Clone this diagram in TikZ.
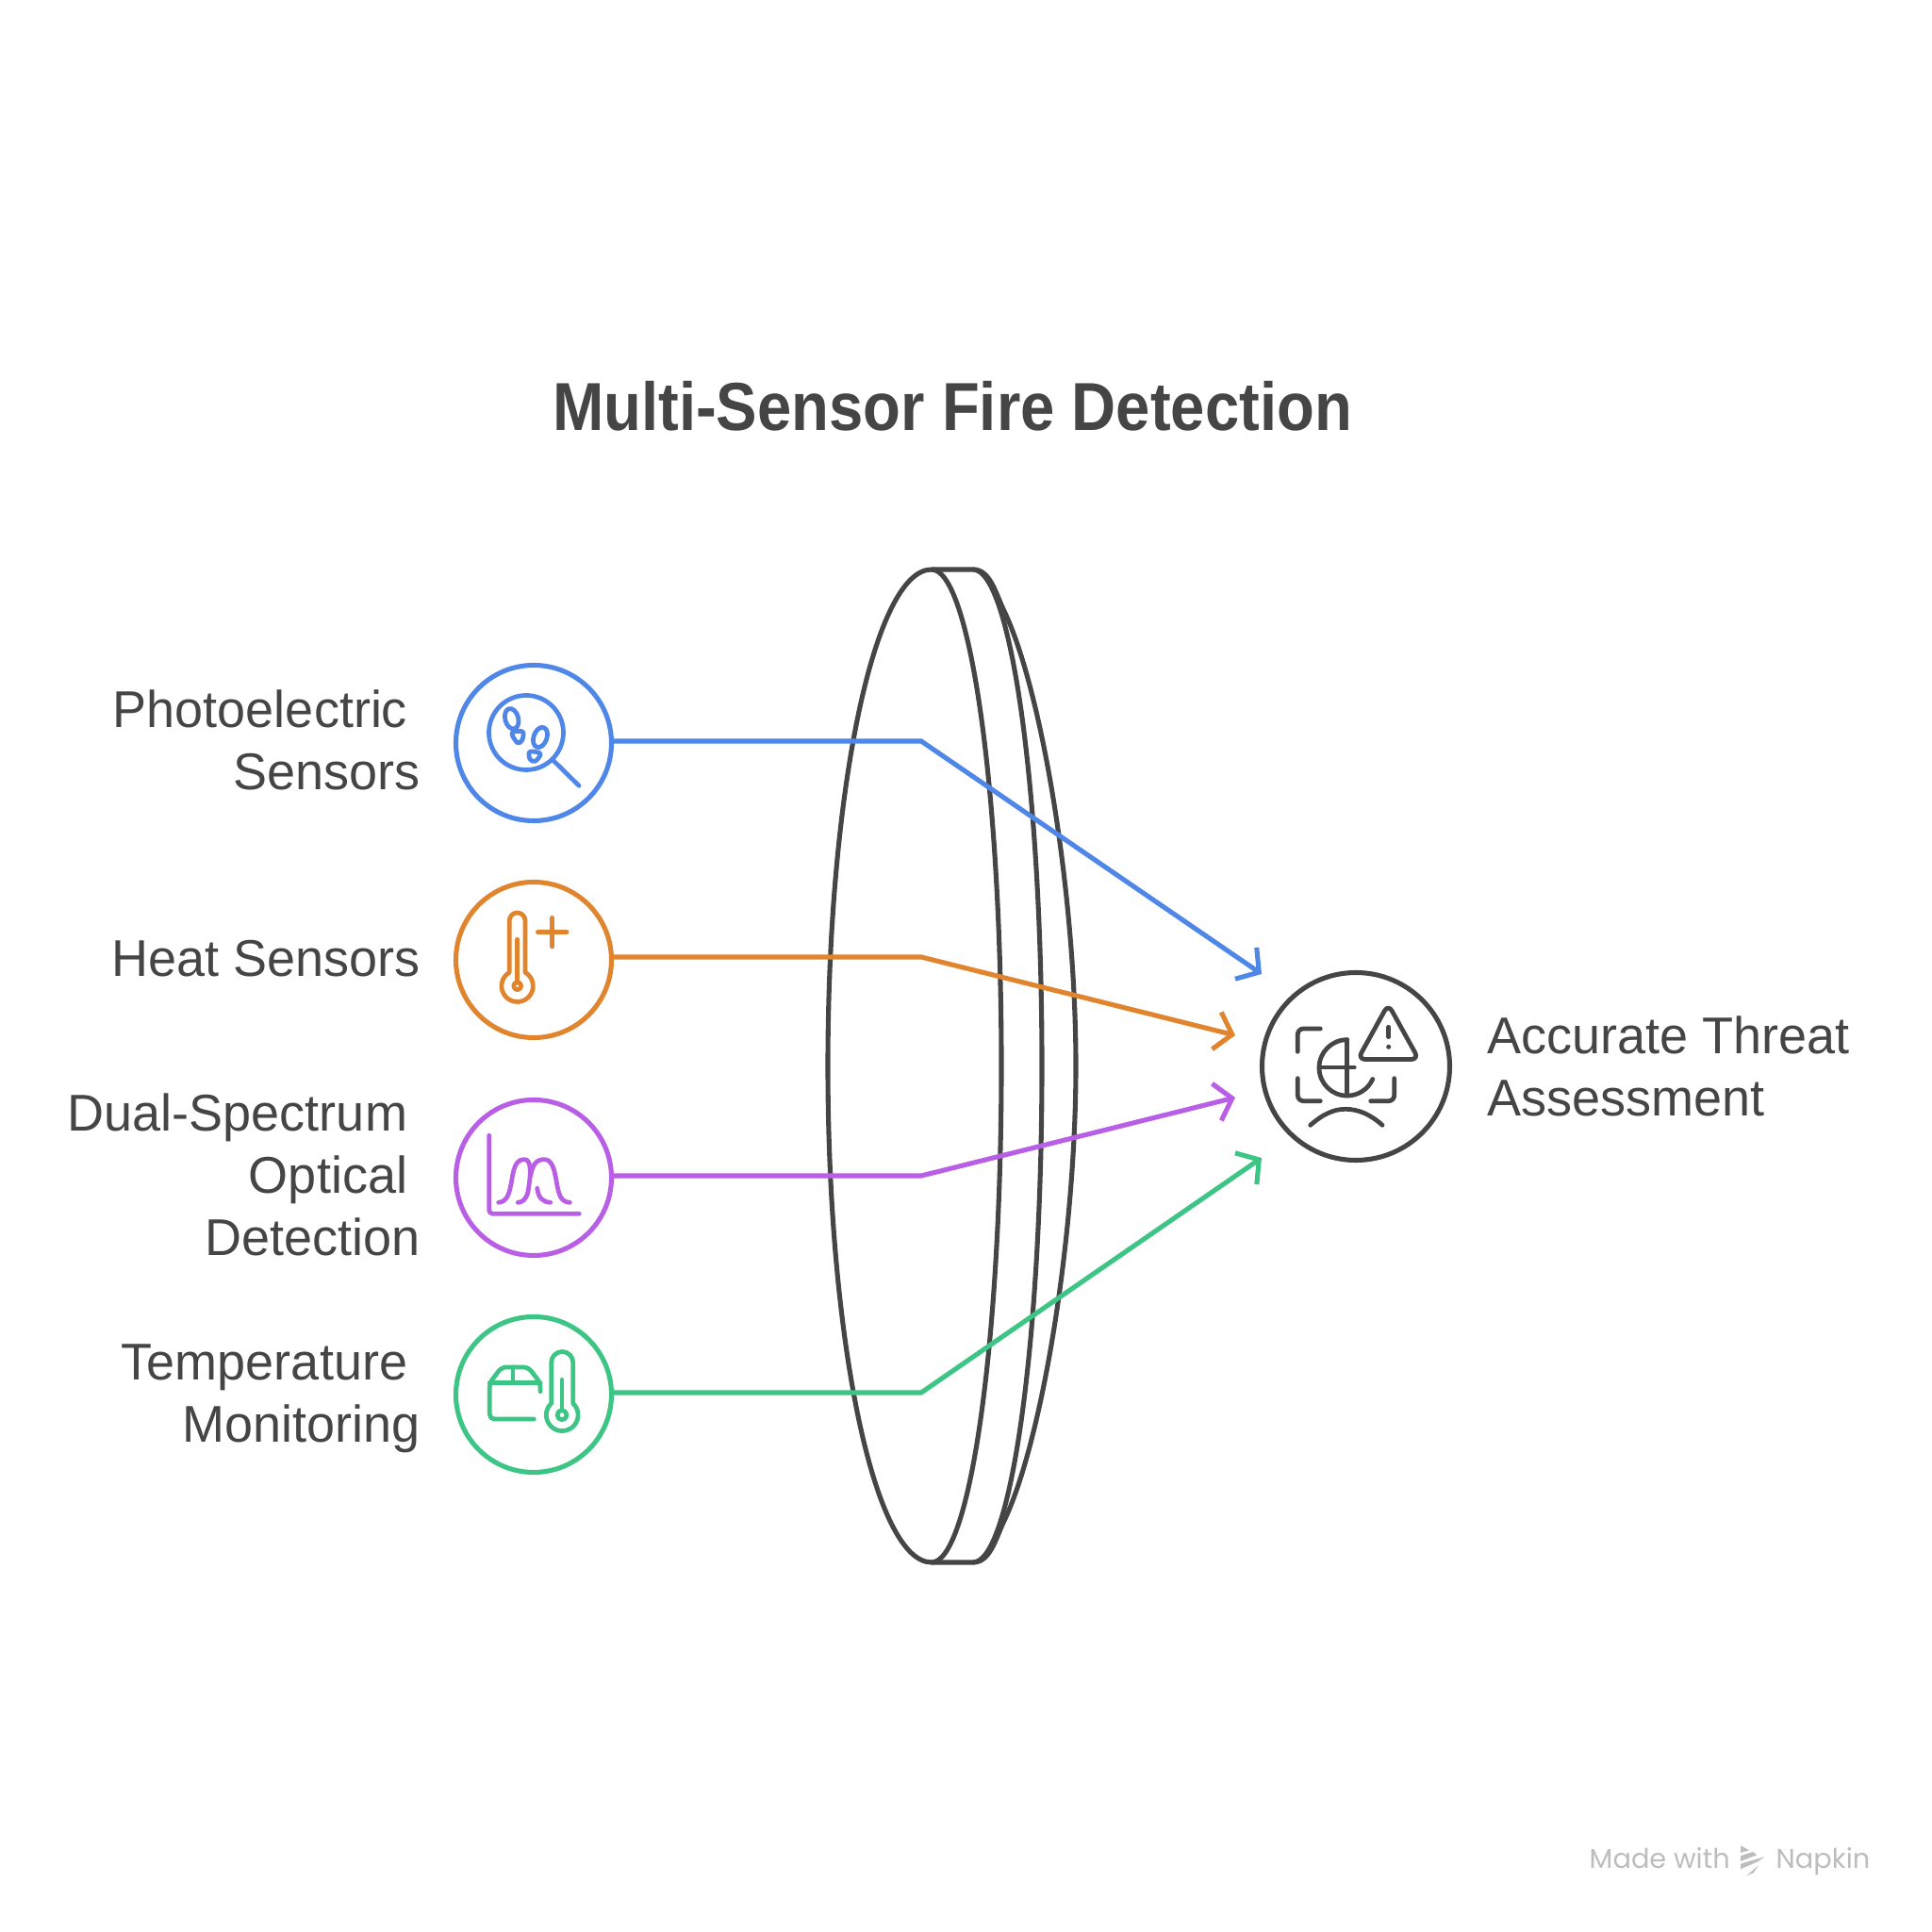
\documentclass[tikz,border=0pt]{standalone}
\usepackage{fontspec}
\setmainfont[FakeStretch=0.985]{Liberation Sans}
\newfontfamily\titlefont[FakeStretch=0.905]{Liberation Sans}
\newfontfamily\markfont{Poppins}
\usetikzlibrary{arrows.meta,positioning}
\definecolor{ink}{HTML}{454545}
\definecolor{cat-photo}{HTML}{4F87E8}
\definecolor{cat-heat}{HTML}{E0842E}
\definecolor{cat-dual}{HTML}{B95FE6}
\definecolor{cat-temp}{HTML}{3DC585}
\definecolor{markgray}{HTML}{BDBDBD}
\newcommand{\trail}{\kern0.25em}
\tikzset{
  ring/.style={circle,line width=1.45pt,minimum size=1.65cm,inner sep=0pt,fill=white},
  label/.style={font=\fontsize{15.6}{18.76}\selectfont,text=ink,inner sep=0pt},
  feed/.style={line width=1.45pt,-{Straight Barb[length=4.8pt,width=11.5pt,line width=1.45pt]}},
  glyph/.style={line width=1.35pt,line cap=round,line join=round}
}
\begin{document}
\begin{tikzpicture}
  \useasboundingbox (0,0) rectangle (20.49,20.49);
  % lens
  \draw[ink,line width=1.45pt] (9.88,14.45) arc[start angle=90,end angle=270,x radius=1.1,y radius=5.265]
    arc[start angle=-90,end angle=90,x radius=0.74,y radius=5.265];
  \draw[ink,line width=1.45pt] (9.88,14.45)--(10.32,14.45) arc[start angle=90,end angle=-90,x radius=0.73,y radius=5.265]--(9.88,3.92);
  \draw[ink,line width=1.45pt] (10.32,14.45) .. controls (10.5,14.45) and (10.56,14.2) .. (10.64,14.03)
    .. controls (11.05,13.19) and (11.41,10.99) .. (11.41,9.185)
    .. controls (11.41,7.38) and (11.05,5.18) .. (10.64,4.34)
    .. controls (10.56,4.17) and (10.5,3.92) .. (10.32,3.92);
  % sensors
  \node[ring,draw=cat-photo] (photo) at (5.66,12.61) {};
  \node[ring,draw=cat-heat] (heat) at (5.66,10.31) {};
  \node[ring,draw=cat-dual] (dual) at (5.66,8.00) {};
  \node[ring,draw=cat-temp] (temp) at (5.66,5.70) {};
  \node[ring,draw=ink,minimum size=1.99cm] (threat) at (14.38,9.18) {};
  \node[label,align=right,left=0.345cm of photo,yshift=0.03cm] (photolabel) {Photoelectric\trail\\Sensors};
  \node[label,align=right,left=0.345cm of heat,yshift=0.01cm] (heatlabel) {Heat Sensors};
  \node[label,align=right,left=0.345cm of dual,yshift=0.03cm] (duallabel) {Dual-Spectrum\trail\\Optical\trail\\Detection};
  \node[label,align=right,left=0.345cm of temp,yshift=-0.04cm] (templabel) {Temperature\trail\\Monitoring};
  \node[label,align=left,right=0.365cm of threat] (threatlabel) {Accurate Threat\\Assessment};
  \node[font=\titlefont\fontsize{20.5}{24}\selectfont\bfseries,text=ink,anchor=base] (title) at (10.10,15.92) {Multi-Sensor Fire Detection};
  % connectors
  \coordinate (photobend) at (9.77,12.63); \coordinate (phototip) at (13.38,10.16);
  \coordinate (heatbend) at (9.77,10.34); \coordinate (heattip) at (13.10,9.51);
  \coordinate (dualbend) at (9.77,8.02); \coordinate (dualtip) at (13.10,8.85);
  \coordinate (tempbend) at (9.77,5.72); \coordinate (temptip) at (13.38,8.21);
  \draw[feed,cat-photo] (photo.east |- photobend)--(photobend)--(phototip);
  \draw[feed,cat-heat] (heat.east |- heatbend)--(heatbend)--(heattip);
  \draw[feed,cat-dual] (dual.east |- dualbend)--(dualbend)--(dualtip);
  \draw[feed,cat-temp] (temp.east |- tempbend)--(tempbend)--(temptip);
  % photo icon
  \begin{scope}[shift={(photo.center)},glyph,cat-photo]
    \draw (-0.08,0.11) circle (0.395);
    \draw (0.21,-0.187)--(0.48,-0.453);
    \draw[rotate around={15:(-0.233,0.257)}] (-0.233,0.257) ellipse (0.07 and 0.11);
    \draw[rotate around={-20:(0.07,0.06)}] (0.07,0.06) ellipse (0.07 and 0.11);
    \draw plot[smooth cycle,tension=0.6] coordinates {(-0.23,0.107) (-0.117,0.12) (-0.123,0.03) (-0.173,0.003)};
    \draw plot[smooth cycle,tension=0.6] coordinates {(-0.04,-0.093) (0.07,-0.113) (0.017,-0.193) (-0.04,-0.17)};
  \end{scope}
  % heat icon
  \begin{scope}[shift={(heat.center)},glyph,cat-heat]
    \draw (-0.257,-0.133)--(-0.257,0.417) arc[start angle=180,end angle=0,radius=0.083]--(-0.09,-0.133)
      arc[start angle=60,end angle=-240,radius=0.167]--cycle;
    \draw (-0.173,0.217)--(-0.173,-0.24);
    \draw (-0.173,-0.277) circle (0.04);
    \draw (0.044,0.293)--(0.35,0.293);
    \draw (0.197,0.14)--(0.197,0.446);
  \end{scope}
  % dual icon
  \begin{scope}[shift={(dual.center)},glyph,cat-dual]
    \draw[rounded corners=0.04cm] (-0.473,0.447)--(-0.473,-0.383)--(0.483,-0.383);
    \draw (-0.373,-0.263) .. controls (-0.273,-0.253) and (-0.257,-0.163) .. (-0.23,-0.013)
      .. controls (-0.207,0.137) and (-0.173,0.193) .. (-0.097,0.193)
      .. controls (-0.017,0.193) and (-0.03,0.02) .. (-0.063,-0.163)
      .. controls (-0.083,-0.23) and (-0.123,-0.263) .. (-0.167,-0.263);
    \draw (-0.033,0.02) .. controls (-0.013,0.137) and (0.027,0.193) .. (0.11,0.193)
      .. controls (0.193,0.193) and (0.217,0.103) .. (0.243,-0.047)
      .. controls (0.267,-0.197) and (0.293,-0.257) .. (0.383,-0.263);
    \draw (0.037,-0.113) .. controls (0.05,-0.213) and (0.093,-0.257) .. (0.177,-0.263);
  \end{scope}
  % temp icon
  \begin{scope}[shift={(temp.center)},glyph,cat-temp]
    \draw[rounded corners=0.05cm] (0.003,-0.26)--(-0.467,-0.26)--(-0.467,0.123)--(-0.34,0.29)--(-0.057,0.29)--(0.07,0.123)--(0.07,0.033);
    \draw (-0.467,0.123)--(0.07,0.123);
    \draw (-0.22,0.29)--(-0.22,0.123);
    \draw (0.187,-0.093)--(0.187,0.34) arc[start angle=180,end angle=0,radius=0.115]--(0.417,-0.093)
      arc[start angle=47,end angle=-227,radius=0.169]--cycle;
    \draw (0.30,0.157)--(0.30,-0.16);
    \draw (0.30,-0.217) circle (0.05);
  \end{scope}
  % threat icon
  \begin{scope}[shift={(threat.center)},glyph,ink]
    \draw[rounded corners=0.06cm] (-0.377,0.40)--(-0.617,0.40)--(-0.617,0.157);
    \draw[rounded corners=0.06cm] (-0.617,-0.127)--(-0.617,-0.367)--(-0.377,-0.367);
    \draw[rounded corners=0.06cm] (0.157,-0.367)--(0.407,-0.367)--(0.407,-0.127);
    \draw (-0.093,0.283) arc[start angle=90,end angle=336,radius=0.297];
    \draw (-0.093,0.283)--(-0.093,-0.31);
    \draw (-0.387,-0.01)--(-0.017,-0.01);
    \draw[rounded corners=0.08cm] (0.343,0.66)--(0.02,0.075)--(0.667,0.075)--cycle;
    \draw (0.347,0.417)--(0.347,0.313);
    \fill (0.347,0.207) circle (0.025);
    \draw (-0.483,-0.623) .. controls (-0.343,-0.5) and (-0.227,-0.453) .. (-0.11,-0.453)
      .. controls (0.023,-0.453) and (0.157,-0.51) .. (0.28,-0.623);
  \end{scope}
  % mark
  \node[font=\markfont\fontsize{8.2}{10}\selectfont,text=markgray,anchor=base west,inner sep=0pt] (made) at (16.85,0.675) {Made with};
  \node[font=\markfont\fontsize{8.2}{10}\selectfont,text=markgray,anchor=base west,inner sep=0pt] (napkin) at (18.83,0.675) {Napkin};
  \fill[markgray] (18.46,0.917)--(18.55,0.867)--(18.46,0.84)--cycle;
  \fill[markgray] (18.46,0.807)--(18.59,0.85)--(18.633,0.817)--(18.46,0.75)--cycle;
  \fill[markgray] (18.46,0.723)--(18.71,0.797)--(18.65,0.75)--(18.46,0.667)--cycle;
  \fill[markgray] (18.523,0.597)--(18.65,0.707)--(18.60,0.63)--cycle;
\end{tikzpicture}
\end{document}
